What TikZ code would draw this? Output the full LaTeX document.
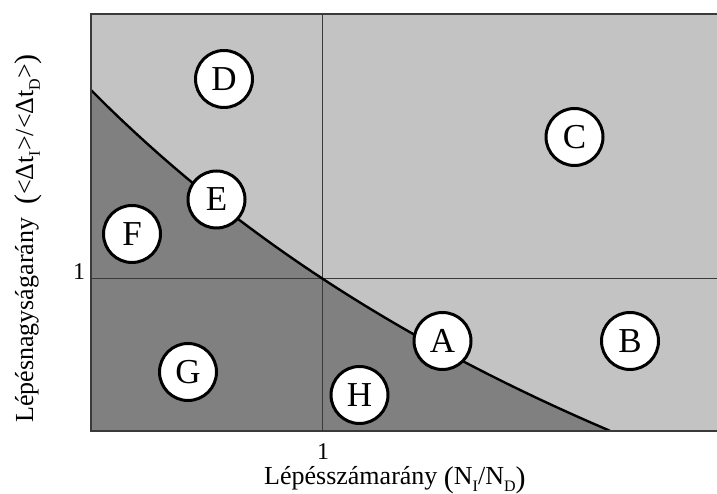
\documentclass[tikz,border=0pt]{standalone}
\usepackage{fontspec}
\setmainfont{Liberation Serif}
\definecolor{lightg}{HTML}{C3C3C3}
\definecolor{darkg}{HTML}{808080}
\definecolor{framec}{HTML}{3A3A3A}
\newcommand{\subtx}[1]{\raisebox{-0.26em}{\fontsize{16}{16}\selectfont #1}}
\newcommand{\bigpar}[1]{{\fontsize{30}{30}\selectfont\raisebox{-0.08em}{#1}}}
\begin{document}
\begin{tikzpicture}[x=1pt,y=1pt,
  framestyle/.style={draw=framec,line width=1.6pt},
  gridstyle/.style={draw=framec,line width=1pt},
  curvestyle/.style={draw=black,line width=2.4pt},
  region/.style={circle,draw=black,line width=3pt,fill=white,minimum size=57pt,inner sep=0pt,font=\fontsize{35}{35}\selectfont},
  ticklab/.style={inner sep=0pt,font=\fontsize{24}{24}\selectfont},
  axlab/.style={inner sep=0pt,font=\fontsize{26}{26}\selectfont}]
\useasboundingbox (0,0) rectangle (717,494);
\fill[lightg] (91,63) rectangle (717,480);
\fill[darkg] (91,63) -- (91,404) -- plot[domain=91:610,samples=90] (\x,{-567.9+934/((\x+870)/1000)}) -- (610,63) -- cycle;
\coordinate (vb) at (322,63);
\coordinate (vt) at (322,480);
\coordinate (hl) at (91,215);
\coordinate (hr) at (717,215);
\draw[gridstyle] (vb) -- (vt);
\draw[gridstyle] (hl) -- (hr);
\draw[curvestyle] plot[domain=91:610,samples=90] (\x,{-567.9+934/((\x+870)/1000)});
\coordinate (tr) at (717,480);
\coordinate (tl) at (91,480);
\coordinate (bl) at (91,63);
\coordinate (br) at (717,63);
\draw[framestyle] (tr) -- (tl) -- (bl) -- (br);
\node[region] (A) at (442.5,153) {A};
\node[region] (B) at (630,153) {B};
\node[region] (C) at (574.5,357) {C};
\node[region] (D) at (224,415) {D};
\node[region] (E) at (216.5,294.5) {E};
\node[region] (F) at (132,260) {F};
\node[region] (G) at (188,122) {G};
\node[region] (H) at (359.5,99) {H};
\node[ticklab] (xone) at (323,42.5) {1};
\node[ticklab] (yone) at (79,222) {1};
\node[axlab,anchor=base west] (xlab) at (264,9) {Lépésszámarány \bigpar{(}N\subtx{I}/N\subtx{D}\bigpar{)}};
\node[axlab,anchor=base west,rotate=90] (ylab) at (33,71) {Lépésnagyságarány \ \bigpar{(}<Δt\subtx{I}>/<Δt\subtx{D}>\bigpar{)}};
\end{tikzpicture}
\end{document}
